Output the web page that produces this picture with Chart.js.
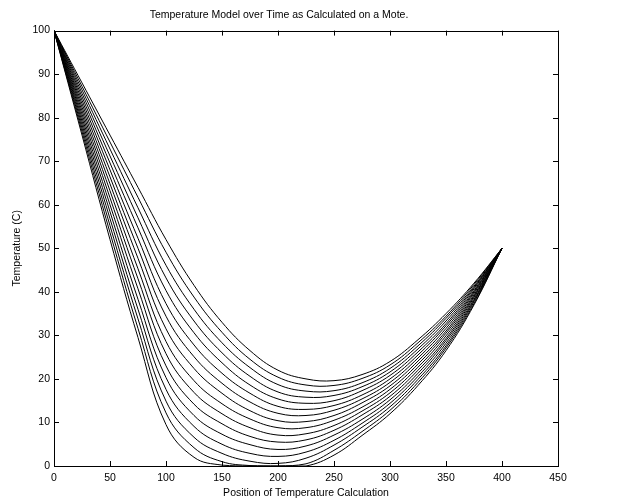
<!DOCTYPE html>
<html>
<head>
<meta charset="utf-8">
<title>Temperature Model over Time</title>
<script src="https://cdn.jsdelivr.net/npm/chart.js@4"></script>
<style>
  html, body { margin: 0; padding: 0; background: #fff; }
  #wrap { width: 619px; height: 501px; }
</style>
</head>
<body>
<div id="wrap"><canvas id="chartTemp" width="619" height="501"></canvas></div>
<script>
// posities langs de staaf waar de temperatuur berekend is
const positions = [0, 25, 50, 75, 100, 125, 150, 175, 200, 225, 250, 275, 300, 325, 350, 375, 400];

// ticks van de assen
const xTicks = [0, 50, 100, 150, 200, 250, 300, 350, 400, 450];
const yTicks = [0, 10, 20, 30, 40, 50, 60, 70, 80, 90, 100];

// een curve per tijdstap (onderste eerst)
const run01 = [100, 76.0, 52.0, 29.5, 9.5, 2.0, 0.2, 0, 0, 0, 2.5, 7.0, 12.0, 18.5, 26.5, 37.0, 50];
const run02 = [100, 76.8, 53.6, 31.6, 12.2, 4.2, 1.0, 0.1, 0, 0.5, 3.6, 7.9, 12.8, 19.2, 27.1, 37.3, 50];
const run03 = [100, 77.6, 55.2, 33.8, 14.9, 6.6, 2.9, 1.1, 0.6, 1.8, 4.8, 8.9, 13.6, 19.9, 27.6, 37.7, 50];
const run04 = [100, 78.4, 56.8, 36.0, 17.6, 9.1, 5.0, 2.9, 2.2, 3.2, 5.9, 9.8, 14.4, 20.6, 28.2, 38.0, 50];
const run05 = [100, 79.2, 58.4, 38.3, 20.3, 11.6, 7.3, 4.9, 3.8, 4.6, 7.1, 10.7, 15.2, 21.3, 28.8, 38.3, 50];
const run06 = [100, 80.0, 60.0, 40.7, 23.0, 14.2, 9.7, 6.8, 5.5, 6.0, 8.2, 11.7, 16.0, 22.0, 29.3, 38.7, 50];
const run07 = [100, 80.8, 61.6, 43.0, 25.8, 16.9, 12.0, 8.8, 7.1, 7.4, 9.3, 12.6, 16.8, 22.7, 29.9, 39.0, 50];
const run08 = [100, 81.6, 63.2, 45.3, 28.6, 19.6, 14.3, 10.8, 8.8, 8.8, 10.5, 13.5, 17.6, 23.4, 30.5, 39.3, 50];
const run09 = [100, 82.4, 64.8, 47.7, 31.5, 22.4, 16.7, 12.7, 10.4, 10.2, 11.6, 14.5, 18.4, 24.1, 31.0, 39.7, 50];
const run10 = [100, 83.2, 66.4, 50.0, 34.4, 25.1, 19.0, 14.7, 12.1, 11.6, 12.8, 15.4, 19.2, 24.8, 31.6, 40.0, 50];
const run11 = [100, 84.0, 68.0, 52.3, 37.3, 27.8, 21.3, 16.7, 13.7, 13.0, 13.9, 16.3, 20.0, 25.5, 32.2, 40.3, 50];
const run12 = [100, 84.8, 69.6, 54.7, 40.3, 30.6, 23.7, 18.6, 15.4, 14.4, 15.0, 17.3, 20.8, 26.2, 32.7, 40.7, 50];
const run13 = [100, 85.6, 71.2, 57.0, 43.2, 33.3, 26.0, 20.6, 17.0, 15.8, 16.2, 18.2, 21.6, 26.9, 33.3, 41.0, 50];
const run14 = [100, 86.4, 72.8, 59.3, 46.1, 36.0, 28.3, 22.6, 18.7, 17.2, 17.3, 19.1, 22.4, 27.6, 33.9, 41.3, 50];
const run15 = [100, 87.2, 74.4, 61.7, 49.1, 38.8, 30.7, 24.5, 20.4, 18.6, 18.5, 20.1, 23.2, 28.3, 34.4, 41.7, 50];
const run16 = [100, 88.0, 76.0, 64.0, 52.0, 41.5, 33.0, 26.5, 22.0, 20.0, 19.6, 21.0, 24.0, 29.0, 35.0, 42.0, 50];

const runs = [run01, run02, run03, run04, run05, run06, run07, run08,
              run09, run10, run11, run12, run13, run14, run15, run16];

const FONT = { family: "'Liberation Sans', Arial, Helvetica, sans-serif", size: 10.5 };

// MATLAB-achtige box met ticks naar binnen op alle vier de zijden
const boxPlugin = {
  id: "matlabBox",
  afterDraw(chart) {
    const { ctx, chartArea: a, scales } = chart;
    const len = 5;
    ctx.save();
    ctx.strokeStyle = "#000";
    ctx.lineWidth = 1;
    ctx.beginPath();
    for (const v of xTicks) {
      const px = Math.round(scales.x.getPixelForValue(v)) + 0.5;
      ctx.moveTo(px, a.bottom); ctx.lineTo(px, a.bottom - len);
      ctx.moveTo(px, a.top); ctx.lineTo(px, a.top + len);
    }
    for (const v of yTicks) {
      const py = Math.round(scales.y.getPixelForValue(v)) + 0.5;
      ctx.moveTo(a.left, py); ctx.lineTo(a.left + len, py);
      ctx.moveTo(a.right, py); ctx.lineTo(a.right - len, py);
    }
    ctx.stroke();
    ctx.strokeRect(Math.round(a.left) + 0.5, Math.round(a.top) + 0.5,
                   Math.round(a.right - a.left), Math.round(a.bottom - a.top));
    ctx.restore();
  },
};

const datasets = runs.map((r, i) => ({
  label: "t" + (i + 1),
  data: positions.map((x, k) => ({ x, y: r[k] })),
  borderColor: "#000",
  borderWidth: 1,
  pointRadius: 0,
  fill: false,
  tension: 0.4,
}));

new Chart(document.getElementById("chartTemp").getContext("2d"), {
  type: "line",
  data: { datasets },
  options: {
    responsive: false,
    animation: false,
    events: [],
    layout: { padding: { left: 0, right: 61, top: 0, bottom: 0 } },
    plugins: {
      legend: { display: false },
      tooltip: { enabled: false },
      title: {
        display: true,
        text: "Temperature Model over Time as Calculated on a Mote.",
        color: "#000",
        font: { ...FONT, weight: "normal" },
        padding: { top: 9, bottom: 9 },
      },
    },
    scales: {
      x: {
        type: "linear",
        min: 0,
        max: 450,
        afterBuildTicks: (s) => { s.ticks = xTicks.map(v => ({ value: v })); },
        afterFit: (s) => { s.height = 35; },
        grid: { display: false, drawTicks: false },
        border: { display: false },
        ticks: { color: "#000", font: FONT, padding: 6, maxRotation: 0 },
        title: {
          display: true,
          text: "Position of Temperature Calculation",
          color: "#000",
          font: FONT,
          padding: { top: 0, bottom: 2 },
        },
      },
      y: {
        min: 0,
        max: 100,
        afterBuildTicks: (s) => { s.ticks = yTicks.map(v => ({ value: v })); },
        afterFit: (s) => { s.width = 54; },
        grid: { display: false, drawTicks: false },
        border: { display: false },
        ticks: { color: "#000", font: FONT, padding: 4 },
        title: {
          display: true,
          text: "Temperature (C)",
          color: "#000",
          font: FONT,
          padding: { top: 11, bottom: 0 },
        },
      },
    },
  },
  plugins: [boxPlugin],
});
</script>
</body>
</html>
